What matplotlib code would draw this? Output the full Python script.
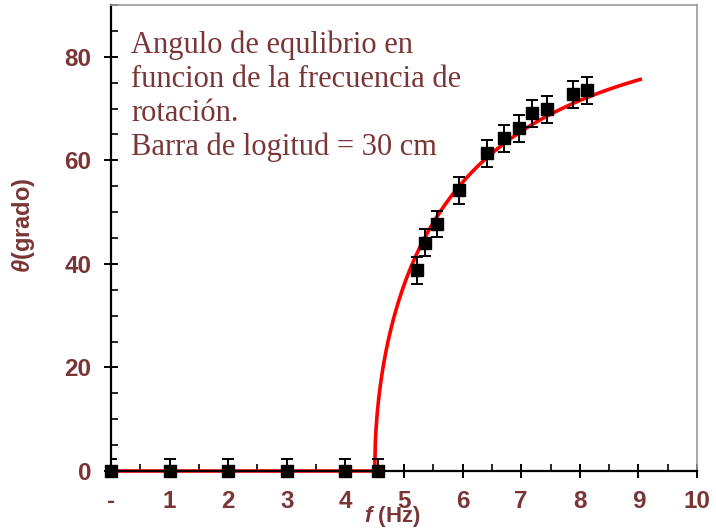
import numpy as np
import matplotlib
matplotlib.use("Agg")
import matplotlib.pyplot as plt
from matplotlib.ticker import MultipleLocator

# measured equilibrium angle vs rotation frequency
freq = [0, 1, 2, 3, 4, 4.56, 5.23, 5.35, 5.57, 5.94, 6.41, 6.71, 6.96, 7.18, 7.44, 7.88, 8.12]
angle = [0, 0, 0, 0, 0, 0, 38.8, 44.1, 47.7, 54.2, 61.4, 64.3, 66.2, 69.1, 69.9, 72.8, 73.5]
angle_err = [2.4] * 6 + [2.6] * 11

# model: cos(theta) = (f0 / f)^2 above the critical frequency
f_crit = 4.50
f_end = 9.03

xtick_vals = [0, 1, 2, 3, 4, 5, 6, 7, 8, 9, 10]
xtick_labels = ['-', '1', '2', '3', '4', '5', '6', '7', '8', '9', '10']
ytick_vals = [0, 20, 40, 60, 80]

brown = '#7a3636'

plt.rcParams['mathtext.fontset'] = 'custom'
plt.rcParams['mathtext.it'] = 'Liberation Sans:bold:italic'
plt.rcParams['mathtext.rm'] = 'Liberation Sans:bold'

fig = plt.figure(figsize=(7.16, 5.29), dpi=100)
ax = fig.add_axes([0.155, 0.1096, 0.8185, 0.881])

# red model curve: flat at zero, then rising branch
f_fit = np.linspace(f_crit, f_end, 400)
theta_fit = np.degrees(np.arccos((f_crit / f_fit) ** 2))
ax.plot([0, f_crit], [0, 0], color='#ff0000', lw=2.6, zorder=2, clip_on=False)
ax.plot(f_fit, theta_fit, color='#ff0000', lw=2.6, zorder=2)

ax.errorbar(freq, angle, yerr=angle_err, fmt='none', ecolor='black',
            elinewidth=1.4, capsize=4, capthick=1.4, zorder=3)
ax.plot(freq, angle, 's', color='black', ms=8, zorder=4, clip_on=False)

ax.set_xlim(0, 10)
ax.set_ylim(0, 90)
ax.set_xticks(xtick_vals)
ax.set_xticklabels(xtick_labels)
ax.set_yticks(ytick_vals)
ax.xaxis.set_minor_locator(MultipleLocator(0.5))
ax.yaxis.set_minor_locator(MultipleLocator(5))

ax.tick_params(which='major', direction='inout', length=10, width=1.4,
               colors='black', labelcolor=brown, labelsize=17.5, pad=9)
ax.tick_params(which='minor', direction='in', length=5, width=1.2, colors='black')
for lab in ax.get_xticklabels() + ax.get_yticklabels():
    lab.set_fontfamily('Liberation Sans')
    lab.set_fontweight('bold')

for side in ('left', 'bottom'):
    ax.spines[side].set_color('black')
    ax.spines[side].set_linewidth(1.6)
for side in ('top', 'right'):
    ax.spines[side].set_color('#9a9a9a')
    ax.spines[side].set_linewidth(1.2)

ax.set_xlabel(r'$f$ (Hz)', color=brown, fontsize=16, fontweight='bold',
              family='Liberation Sans', va='center', ha='center')
ax.xaxis.set_label_coords(0.48, -0.098)
ax.set_ylabel(r'$\theta$(grado)', color=brown, fontsize=17, fontweight='bold',
              family='Liberation Sans', va='center', ha='center')
ax.yaxis.set_label_coords(-0.149, 0.528)

ax.text(0.035, 0.945,
        'Angulo de equlibrio en\nfuncion de la frecuencia de\nrotación.\n'
        'Barra de logitud = 30 cm',
        transform=ax.transAxes, ha='left', va='top', color=brown,
        family='Liberation Serif', fontsize=22, linespacing=1.22)

fig.savefig('out.png', dpi=100)
